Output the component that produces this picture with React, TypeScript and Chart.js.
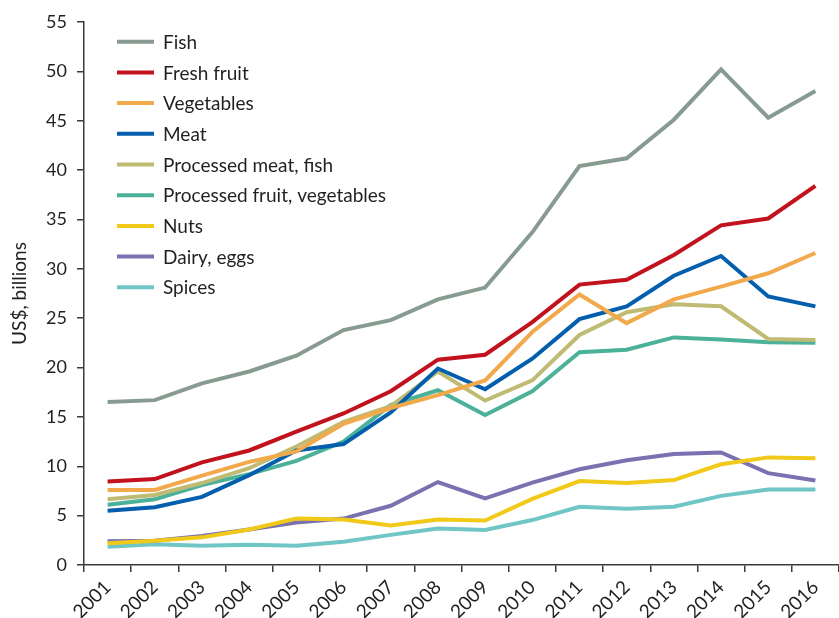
import React, { useEffect, useRef } from "react";
import { Chart, registerables } from "chart.js";

Chart.register(...registerables);

const years = ["2001","2002","2003","2004","2005","2006","2007","2008","2009","2010","2011","2012","2013","2014","2015","2016"];

const fish = [16.5, 16.7, 18.4, 19.6, 21.2, 23.8, 24.8, 26.9, 28.1, 33.7, 40.4, 41.2, 45.1, 50.2, 45.3, 48.0];
const freshFruit = [8.45, 8.7, 10.4, 11.6, 13.5, 15.35, 17.6, 20.8, 21.3, 24.6, 28.4, 28.9, 31.4, 34.4, 35.1, 38.4];
const vegetables = [7.6, 7.6, 9.05, 10.45, 11.5, 14.3, 15.9, 17.2, 18.7, 23.6, 27.4, 24.5, 26.9, 28.2, 29.55, 31.6];
const meat = [5.5, 5.85, 6.9, 9.1, 11.6, 12.25, 15.45, 19.9, 17.8, 20.9, 24.9, 26.2, 29.3, 31.3, 27.2, 26.2];
const processedMeatFish = [6.65, 7.1, 8.3, 9.8, 12.0, 14.5, 16.1, 19.6, 16.65, 18.7, 23.3, 25.6, 26.4, 26.2, 22.9, 22.8];
const processedFruitVeg = [6.1, 6.65, 8.1, 9.2, 10.55, 12.5, 16.2, 17.7, 15.2, 17.6, 21.55, 21.8, 23.05, 22.85, 22.55, 22.5];
const nuts = [2.2, 2.45, 2.8, 3.6, 4.7, 4.6, 4.0, 4.6, 4.5, 6.7, 8.5, 8.3, 8.6, 10.2, 10.9, 10.8];
const dairyEggs = [2.4, 2.45, 2.95, 3.6, 4.3, 4.7, 6.0, 8.4, 6.75, 8.35, 9.7, 10.6, 11.25, 11.4, 9.3, 8.55];
const spices = [1.85, 2.1, 1.95, 2.05, 1.95, 2.35, 3.05, 3.7, 3.55, 4.55, 5.9, 5.7, 5.9, 7.0, 7.65, 7.65];

const seriesLabels = ["Fish", "Fresh fruit", "Vegetables", "Meat", "Processed meat, fish", "Processed fruit, vegetables", "Nuts", "Dairy, eggs", "Spices"];
const seriesValues = [fish, freshFruit, vegetables, meat, processedMeatFish, processedFruitVeg, nuts, dairyEggs, spices];
const seriesColors = ["#889b91", "#c1121d", "#f2a94c", "#035fad", "#bfbb73", "#4bb198", "#f1c918", "#7a71b0", "#70c6c6"];

const yTicks = [0, 5, 10, 15, 20, 25, 30, 35, 40, 45, 50, 55];

const FONT = "Lato, 'Open Sans', sans-serif";
const TEXT = "#231f20";
const AXIS = "#3a3a3a";

const legendPlugin = {
  id: "insideLegend",
  afterDraw(chart: any) {
    const { ctx, chartArea } = chart;
    ctx.save();
    chart.data.datasets.forEach((ds: any, i: number) => {
      const y = chartArea.top + 19.7 + i * 30.7;
      ctx.strokeStyle = ds.borderColor;
      ctx.lineWidth = 4;
      ctx.lineCap = "butt";
      ctx.beginPath();
      ctx.moveTo(chartArea.left + 33, y);
      ctx.lineTo(chartArea.left + 70, y);
      ctx.stroke();
      ctx.fillStyle = TEXT;
      ctx.font = `19px ${FONT}`;
      ctx.textBaseline = "middle";
      ctx.textAlign = "left";
      ctx.fillText(ds.label, chartArea.left + 79, y + 1);
    });
    ctx.restore();
  },
};

export default function App() {
  const ref = useRef<HTMLCanvasElement | null>(null);

  useEffect(() => {
    if (!ref.current) return;
    const chart = new Chart(ref.current, {
      type: "line",
      data: {
        labels: years,
        datasets: seriesLabels.map((label, i) => ({
          label,
          data: seriesValues[i],
          borderColor: seriesColors[i],
          backgroundColor: seriesColors[i],
          borderWidth: 4,
          pointRadius: 0,
          tension: 0,
          fill: false,
        })),
      },
      options: {
        responsive: false,
        animation: false,
        layout: { padding: { top: 22, right: 0, left: 0, bottom: 0 } },
        plugins: {
          legend: { display: false },
          tooltip: { enabled: false },
        },
        scales: {
          x: {
            type: "category",
            offset: true,
            grid: {
              offset: true,
              drawOnChartArea: false,
              drawTicks: true,
              tickLength: 7,
              color: AXIS,
              lineWidth: 1.5,
            },
            border: { color: AXIS, width: 1.5 },
            ticks: {
              color: TEXT,
              font: { family: FONT, size: 19 },
              maxRotation: 45,
              minRotation: 45,
              autoSkip: false,
              padding: 4,
            },
            afterFit(scale: any) {
              scale.height = 53;
            },
          },
          y: {
            min: 0,
            max: 55,
            afterBuildTicks(scale: any) {
              scale.ticks = yTicks.map((v) => ({ value: v }));
            },
            grid: {
              drawOnChartArea: false,
              drawTicks: true,
              tickLength: 7,
              color: AXIS,
              lineWidth: 1.5,
            },
            border: { color: AXIS, width: 1.5 },
            ticks: {
              color: TEXT,
              font: { family: FONT, size: 18 },
              padding: 10,
            },
            title: {
              display: true,
              text: "US$, billions",
              color: TEXT,
              font: { family: FONT, size: 19 },
              padding: { top: 8.5, bottom: 4 },
            },
            afterFit(scale: any) {
              scale.width = 84;
            },
          },
        },
      },
      plugins: [legendPlugin],
    });
    return () => chart.destroy();
  }, []);

  return (
    <div style={{ position: "absolute", left: 0, top: 0, width: 839, height: 618, background: "#fff" }}>
      <canvas ref={ref} width={839} height={618} />
    </div>
  );
}
